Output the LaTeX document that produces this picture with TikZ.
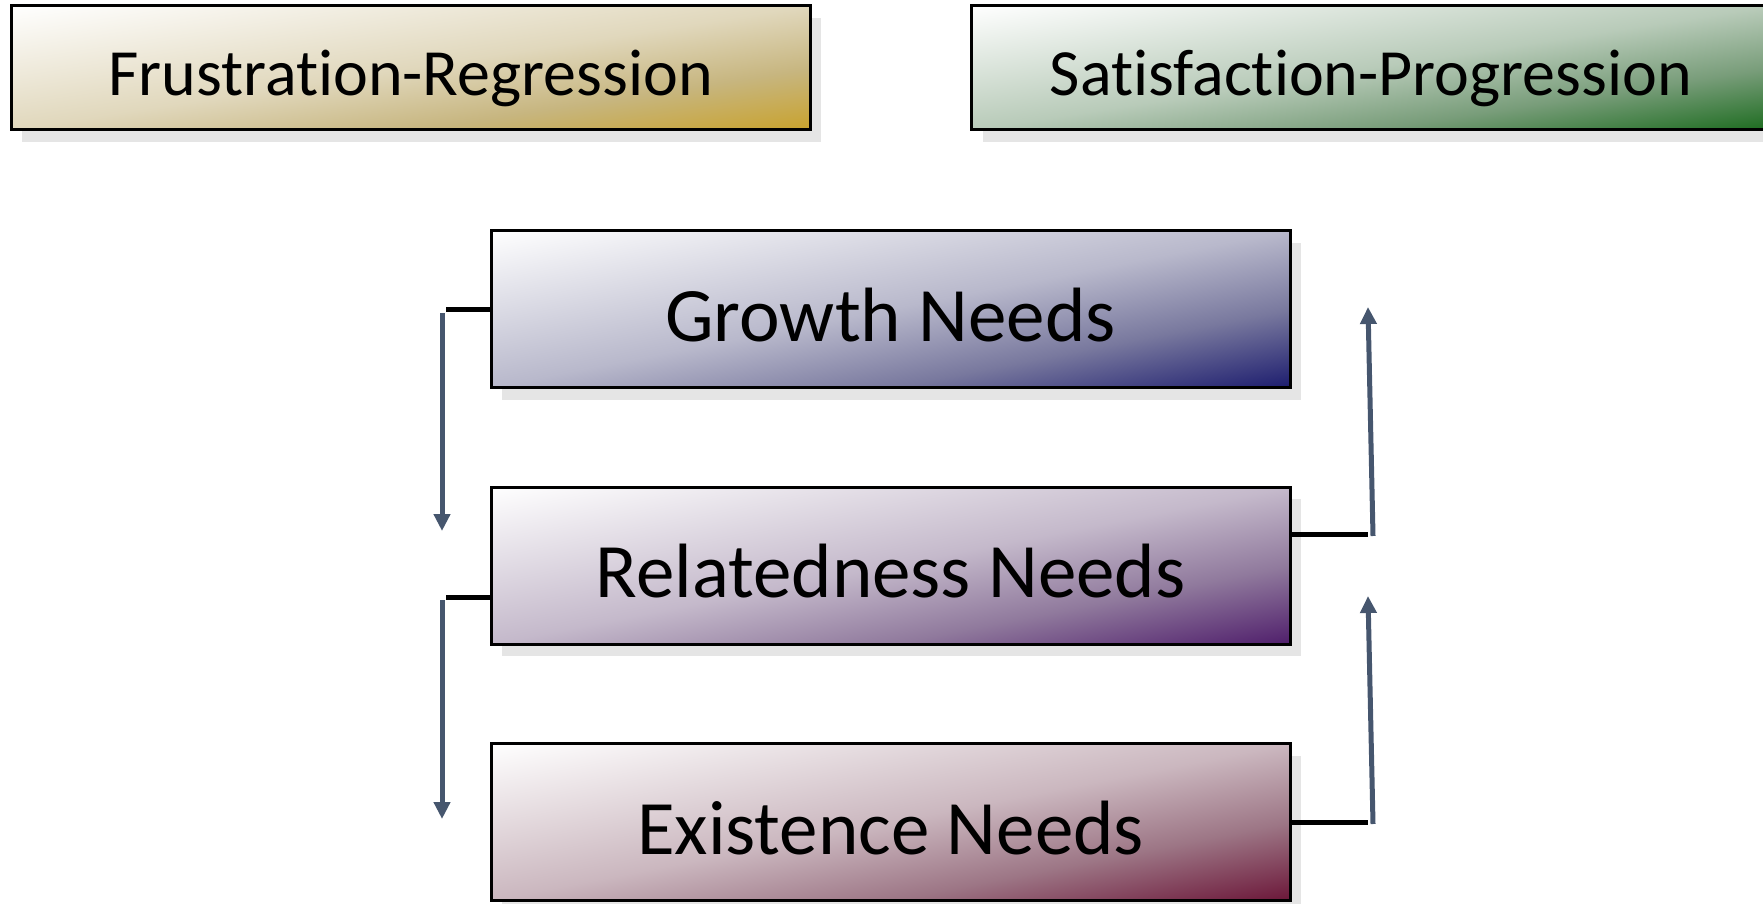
\documentclass[tikz,border=0pt]{standalone}
\usepackage{fontspec}
\setmainfont{Carlito}[Ligatures=NoCommon]
\usetikzlibrary{arrows.meta,shadows}

\definecolor{frgold}{HTML}{C8A22C}
\definecolor{spgreen}{HTML}{1B6B1E}
\definecolor{grnavy}{HTML}{1C1C6E}
\definecolor{repurple}{HTML}{4F1E6B}
\definecolor{exmaroon}{HTML}{6B1638}
\definecolor{pathblue}{HTML}{46566E}

\newcommand\declboxshade[1]{%
  \pgfdeclareverticalshading{shade#1}{140bp}{color(0bp)=(#1); color(25bp)=(#1!52!white!88!black);
    color(50bp)=(#1!25!white!93!black); color(100bp)=(white)}}
\declboxshade{frgold}
\declboxshade{spgreen}
\declboxshade{grnavy}
\declboxshade{repurple}
\declboxshade{exmaroon}

\tikzset{
  gradfill/.style n args={3}{path picture={
      \pgftransformshift{\pgfpointanchor{path picture bounding box}{center}}
      \pgftransformcm{#2}{#3}{-#2}{#3}{\pgfpointorigin}
      \pgflowlevelsynccm
      \pgfuseshading{shade#1}}},
  needbox/.style={draw=black, fill=white, line width=3pt, minimum width=799pt, minimum height=157pt,
    gradfill={#1}{8}{1.57}, text height=73pt, text depth=9pt,
    drop shadow={shadow xshift=11pt, shadow yshift=-12pt, fill=black!10, opacity=1},
    font=\fontsize{77}{90}\selectfont},
  modebox/.style={needbox=#1, minimum height=124pt, gradfill={#1}{8}{1.24},
    text height=64pt, text depth=8pt, font=\fontsize{66}{78}\selectfont},
  link/.style={line width=5pt},
  pathway/.style={->, draw=pathblue, line width=5pt}
}

\begin{document}
\begin{tikzpicture}[x=1pt, y=-1pt, >={Triangle[width=16pt,length=17pt]}]

    \clip (0,0) rectangle (1763,904);
    \useasboundingbox (0,0) rectangle (1763,904);

    \node[modebox=frgold] (frust) at (410.5,68) {Frustration-Regression};
    \node[modebox=spgreen] (satis) at (1371,68) {Satisfaction-Progression};

    \node[needbox=grnavy] (growth) at (890.5,309) {Growth Needs};
    \node[needbox=repurple] (related) at (890.5,565.5) {Relatedness Needs};
    \node[needbox=exmaroon] (exist) at (890.5,822) {Existence Needs};

    % frustration - regression
    \coordinate (gl) at (446,309);
    \coordinate (gl0) at (442,313);
    \coordinate (gl1) at (442,531);
    \draw[link] (growth.west |- gl) -- (gl);
    \draw[pathway] (gl0) -- (gl1);

    \coordinate (rl) at (446,597);
    \coordinate (rl0) at (442,600);
    \coordinate (rl1) at (442,819);
    \draw[link] (related.west |- rl) -- (rl);
    \draw[pathway] (rl0) -- (rl1);

    % satisfaction - progression
    \coordinate (rr) at (1368,534);
    \coordinate (rr0) at (1373,536);
    \coordinate (rr1) at (1368,307);
    \draw[link] (related.east |- rr) -- (rr);
    \draw[pathway] (rr0) -- (rr1);

    \coordinate (er) at (1368,822);
    \coordinate (er0) at (1373,824);
    \coordinate (er1) at (1368,596);
    \draw[link] (exist.east |- er) -- (er);
    \draw[pathway] (er0) -- (er1);

\end{tikzpicture}
\end{document}
